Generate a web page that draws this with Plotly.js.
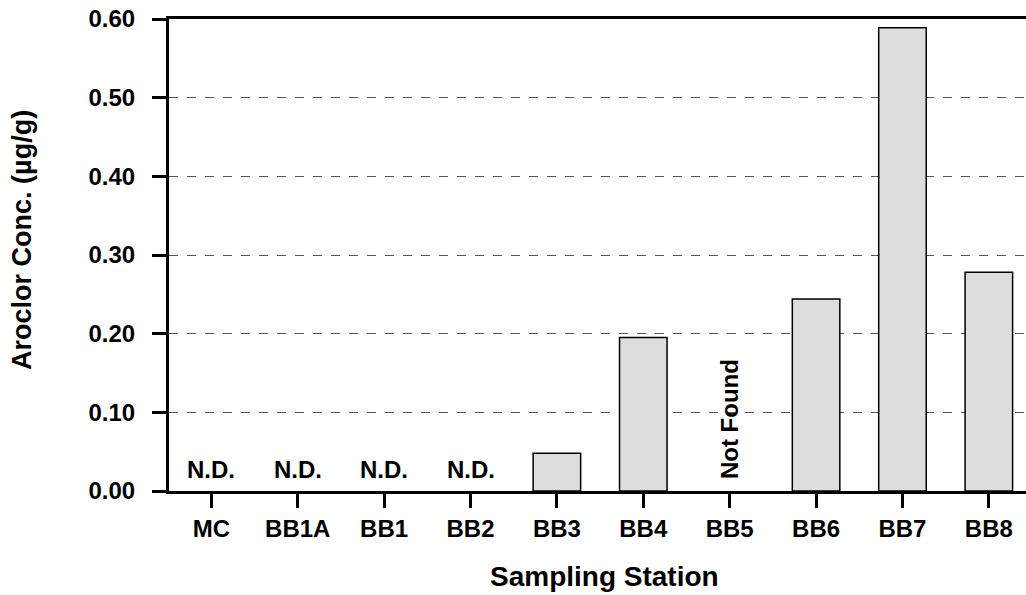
<!DOCTYPE html>
<html>
<head>
<meta charset="utf-8">
<script src="https://cdn.plot.ly/plotly-3.0.1.min.js"></script>
<style>html,body{margin:0;padding:0;background:#fff;}#chart{width:1026px;height:595px;}</style>
</head>
<body>
<div id="chart"></div>
<script>
const stations = ["MC","BB1A","BB1","BB2","BB3","BB4","BB5","BB6","BB7","BB8"];
const aroclor = [null,null,null,null,0.048,0.195,null,0.244,0.589,0.278];
const notes = ["N.D.","N.D.","N.D.","N.D.","","","Not Found","","",""];
const yTicks = [0,0.1,0.2,0.3,0.4,0.5,0.6];
const yTickText = ["0.00","0.10","0.20","0.30","0.40","0.50","0.60"];
const xTitle = "Sampling Station";
const yTitle = "Aroclor Conc. (µg/g)";

const F = "Liberation Sans, Arial, Helvetica, sans-serif";
const xIdx = stations.map((s,i)=>i);

const annotations = [];
notes.forEach((t,i)=>{
  if(!t) return;
  if(t === "Not Found"){
    annotations.push({x:i, y:0.091, xref:'x', yref:'y', text:t, showarrow:false, textangle:-90,
      font:{family:F, size:24, color:'#000', weight:'bold'}});
  } else {
    annotations.push({x:i, y:0.027, xref:'x', yref:'y', text:t, showarrow:false,
      font:{family:F, size:24, color:'#000', weight:'bold'}});
  }
});
// axis titles placed as annotations to match the reference's off-centre placement
annotations.push({xref:'paper', yref:'paper', x:0.508, y:-0.182, xanchor:'center', yanchor:'middle',
  text:xTitle, showarrow:false, font:{family:F, size:28, color:'#000', weight:'bold'}});
annotations.push({xref:'paper', yref:'paper', x:-0.1715, y:0.532, xanchor:'center', yanchor:'middle',
  text:yTitle, textangle:-90, showarrow:false, font:{family:F, size:27, color:'#000', weight:'bold'}});

const trace = {
  type:'bar', x:xIdx, y:aroclor, width:0.55,
  marker:{color:'#dddddd', line:{color:'#000', width:1.5}},
  hoverinfo:'skip'
};

const layout = {
  width:1026, height:595,
  margin:{l:169, r:0, t:19, b:104},
  paper_bgcolor:'#fff', plot_bgcolor:'#fff',
  showlegend:false,
  font:{family:F, color:'#000'},
  xaxis:{
    range:[-0.49, 9.43], tickvals:xIdx, ticktext:stations,
    showgrid:false, zeroline:false,
    showline:true, linecolor:'#000', linewidth:3, mirror:true,
    ticks:'outside', ticklen:14, tickwidth:3, tickcolor:'#000',
    ticklabelstandoff:0,
    tickfont:{family:F, size:24, color:'#000', weight:'bold'}
  },
  yaxis:{
    range:[0,0.6], tickvals:yTicks, ticktext:yTickText,
    showgrid:true, gridcolor:'#555', griddash:'dash', gridwidth:1,
    zeroline:false,
    showline:true, linecolor:'#000', linewidth:3,
    ticks:'outside', ticklen:14, tickwidth:3, tickcolor:'#000',
    ticklabelstandoff:12,
    tickfont:{family:F, size:24, color:'#000', weight:'bold'}
  },
  annotations:annotations
};

Plotly.newPlot('chart',[trace],layout,{displayModeBar:false, staticPlot:true});
</script>
</body>
</html>
